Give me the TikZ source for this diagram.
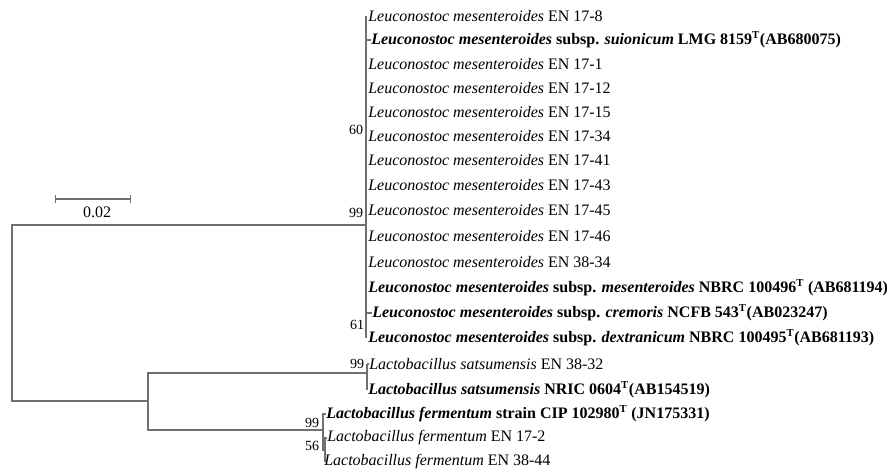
\documentclass[tikz,border=0pt]{standalone}
\usepackage{fontspec}
\setmainfont{Liberation Serif}
\usetikzlibrary{arrows.meta}
\definecolor{branchgray}{RGB}{112,112,112}
\tikzset{
  leaf/.style={anchor=west, inner sep=0pt, font=\fontsize{12}{14}\selectfont},
  boot/.style={inner sep=0pt, font=\fontsize{10.5}{12}\selectfont},
  branch/.style={draw=branchgray, line width=0.8pt}
}

\begin{document}
\begin{tikzpicture}[x=0.75pt, y=-0.75pt]
\useasboundingbox (0,0) rectangle (887,473);
% leaves, Leuconostoc
\node[leaf] (en178) at (368,16) {\textit{Leuconostoc mesenteroides} EN 17-8};
\node[leaf] (suio) at (371,40) {\textbf{\textit{Leuconostoc mesenteroides} subsp. \textit{suionicum} LMG 8159\textsuperscript{T}(AB680075)}};
\node[leaf] (en171) at (368,64) {\textit{Leuconostoc mesenteroides} EN 17-1};
\node[leaf] (en1712) at (368,88) {\textit{Leuconostoc mesenteroides} EN 17-12};
\node[leaf] (en1715) at (368,112) {\textit{Leuconostoc mesenteroides} EN 17-15};
\node[leaf] (en1734) at (368,136) {\textit{Leuconostoc mesenteroides} EN 17-34};
\node[leaf] (en1741) at (368,160) {\textit{Leuconostoc mesenteroides} EN 17-41};
\node[leaf] (en1743) at (368,185) {\textit{Leuconostoc mesenteroides} EN 17-43};
\node[leaf] (en1745) at (368,210) {\textit{Leuconostoc mesenteroides} EN 17-45};
\node[leaf] (en1746) at (368,236) {\textit{Leuconostoc mesenteroides} EN 17-46};
\node[leaf] (en3834) at (368,262) {\textit{Leuconostoc mesenteroides} EN 38-34};
\node[leaf] (mese) at (368,288) {\textbf{\textit{Leuconostoc mesenteroides} subsp. \textit{mesenteroides} NBRC 100496\textsuperscript{T} (AB681194)}};
\node[leaf] (crem) at (372,313) {\textbf{\textit{Leuconostoc mesenteroides} subsp. \textit{cremoris} NCFB 543\textsuperscript{T}(AB023247)}};
\node[leaf] (dext) at (368,338) {\textbf{\textit{Leuconostoc mesenteroides} subsp. \textit{dextranicum} NBRC 100495\textsuperscript{T}(AB681193)}};
% leaves, Lactobacillus
\node[leaf] (sat3832) at (369,364) {\textit{Lactobacillus satsumensis} EN 38-32};
\node[leaf] (sat0604) at (368,390) {\textbf{\textit{Lactobacillus satsumensis} NRIC 0604\textsuperscript{T}(AB154519)}};
\node[leaf] (cip) at (326,414) {\textbf{\textit{Lactobacillus fermentum} strain CIP 102980\textsuperscript{T} (JN175331)}};
\node[leaf] (fer172) at (327,438) {\textit{Lactobacillus fermentum} EN 17-2};
\node[leaf] (fer3844) at (324,462) {\textit{Lactobacillus fermentum} EN 38-44};
% inner nodes
\coordinate (root) at (12,313);
\coordinate (leu) at (366,225);
\coordinate (n61) at (366,325);
\coordinate (lac) at (148,401);
\coordinate (sat) at (367,373);
\coordinate (fer) at (323,430);
\coordinate (n56) at (325,450);
% branches
\draw[branch] (leu) -| (root) |- (lac);
\draw[branch] (sat) -| (lac) |- (fer);
\draw[branch] (en178.west -| leu) -- (n61);
\draw[branch] (suio.west -| leu) -- (suio.west);
\draw[branch] (crem.west -| n61) -- (dext.west -| n61);
\draw[branch] (crem.west -| n61) -- (crem.west);
\draw[branch] (sat3832.west -| sat) -- (sat0604.west -| sat);
\draw[branch] (sat3832.west -| sat) -- (sat3832.west);
\draw[branch] (cip.west) -- (cip.west -| fer) -- (fer |- n56) -- (n56);
\draw[branch] (fer172.west) -- (fer172.west -| n56) -- (fer3844.west -| n56);
% bootstrap values
\node[boot] (b60) at (356,130) {60};
\node[boot] (b99leu) at (356,213) {99};
\node[boot] (b61) at (357,325) {61};
\node[boot] (b99sat) at (357,364) {99};
\node[boot] (b99fer) at (312,423) {99};
\node[boot] (b56) at (312,446) {56};
% scale bar
\coordinate (sb0) at (55,199);
\coordinate (sb1) at (131,199);
\draw[branch, {Bar[width=6pt]}-{Bar[width=6pt]}] (sb0) -- (sb1);
\node[inner sep=0pt, font=\fontsize{12}{14}\selectfont] (sblabel) at (97,212) {0.02};
\end{tikzpicture}
\end{document}
